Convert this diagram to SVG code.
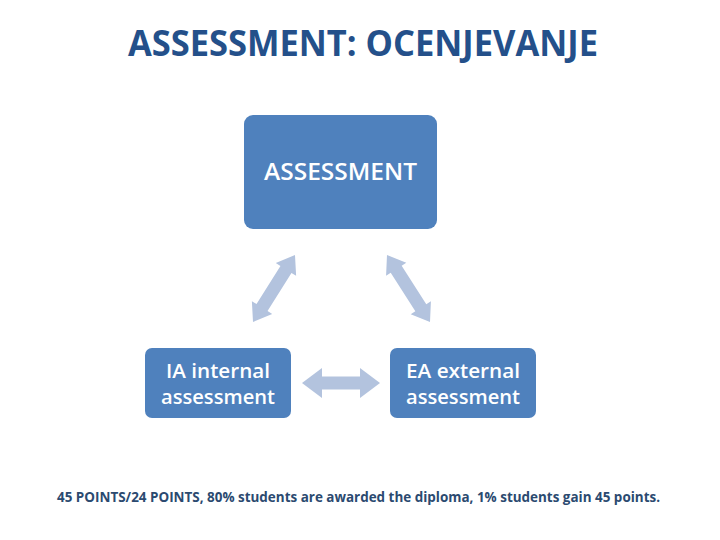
<svg xmlns="http://www.w3.org/2000/svg" width="720" height="540" viewBox="0 0 720 540">
<style>
.box{fill:#4f81bd;}
.bt{fill:#ffffff;font-family:"Open Sans","Liberation Sans",sans-serif;text-anchor:middle;font-weight:600;}
.arr{fill:#b3c3de;}
.dark{font-family:"Open Sans","Liberation Sans",sans-serif;font-weight:bold;}
</style>
<rect width="720" height="540" fill="#ffffff"/>
<text class="dark" x="363" y="56" font-size="35" fill="#24508a" text-anchor="middle" textLength="470" lengthAdjust="spacingAndGlyphs">ASSESSMENT: OCENJEVANJE</text>
<g id="connectors">
<polygon class="arr" transform="translate(274,288.5) rotate(-57.9)" points="-39.5,0 -22.5,-12 -22.5,-6.5 22.5,-6.5 22.5,-12 39.5,0 22.5,12 22.5,6.5 -22.5,6.5 -22.5,12"/>
<polygon class="arr" transform="translate(408.5,288.5) rotate(57.3)" points="-39.8,0 -22.8,-12 -22.8,-6.5 22.8,-6.5 22.8,-12 39.8,0 22.8,12 22.8,6.5 -22.8,6.5 -22.8,12"/>
<polygon class="arr" transform="translate(341,383)" points="-39,0 -19,-15 -19,-6.5 19,-6.5 19,-15 39,0 19,15 19,6.5 -19,6.5 -19,15"/>
</g>
<g id="assessment">
<rect class="box" x="244" y="115" width="193" height="114" rx="9"/>
<text class="bt" x="340.5" y="180" font-size="23" textLength="153" lengthAdjust="spacingAndGlyphs">ASSESSMENT</text>
</g>
<g id="ia">
<rect class="box" x="145" y="348" width="146" height="70" rx="7"/>
<text class="bt" x="218" y="378" font-size="20" textLength="104" lengthAdjust="spacingAndGlyphs">IA internal</text>
<text class="bt" x="218" y="404" font-size="20" textLength="114" lengthAdjust="spacingAndGlyphs">assessment</text>
</g>
<g id="ea">
<rect class="box" x="390" y="348" width="146" height="70" rx="7"/>
<text class="bt" x="463" y="378" font-size="20" textLength="114" lengthAdjust="spacingAndGlyphs">EA external</text>
<text class="bt" x="463" y="404" font-size="20" textLength="114" lengthAdjust="spacingAndGlyphs">assessment</text>
</g>
<text class="dark" x="57" y="502" font-size="14" fill="#2b4a70" textLength="603" lengthAdjust="spacingAndGlyphs">45 POINTS/24 POINTS, 80% students are awarded the diploma, 1% students gain 45 points.</text>
</svg>
